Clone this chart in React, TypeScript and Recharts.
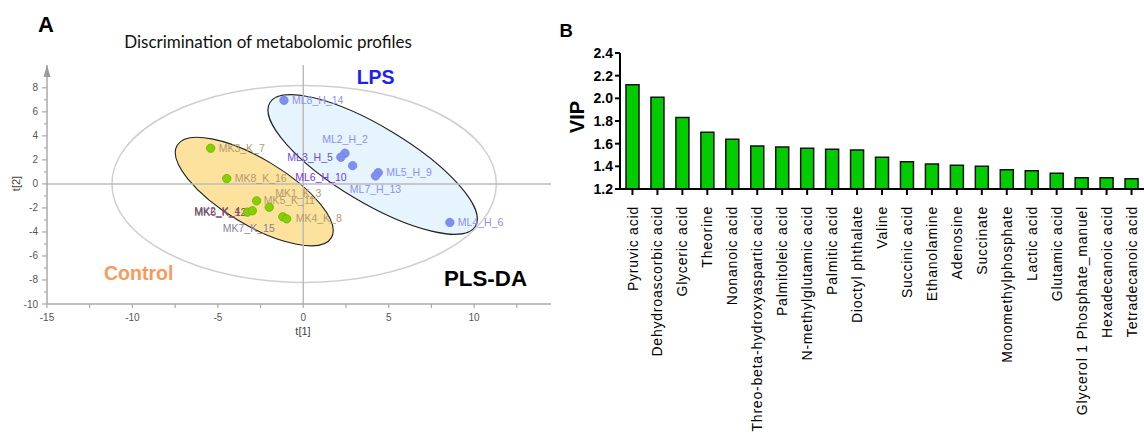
import React from 'react';
import {
  ScatterChart, Scatter, XAxis, YAxis, ReferenceArea, ReferenceLine, ReferenceDot,
  BarChart, Bar,
} from 'recharts';

// ---------- Panel A data (PLS-DA scores) ----------
const controlNames = ['MK3_K_7', 'MK8_K_16', 'MK5_K_11', 'MK1_K_3', 'MK6_K_12', 'MK2_K_4', 'MK7_K_15', 'MK4_K_8'];
const controlT1 = [-5.42, -4.48, -2.73, -1.99, -3.27, -2.98, -1.2, -0.97];
const controlT2 = [2.97, 0.44, -1.41, -1.94, -2.35, -2.24, -2.74, -2.91];

const lpsNames = ['ML8_H_14', 'ML2_H_2', 'ML3_H_5', 'ML6_H_10', 'ML5_H_9', 'ML7_H_13', 'ML4_H_6'];
const lpsT1 = [-1.13, 2.44, 2.2, 2.89, 4.39, 4.23, 8.58];
const lpsT2 = [6.96, 2.55, 2.22, 1.52, 0.94, 0.66, -3.21];

const xTicks = [-15, -12.5, -10, -7.5, -5, -2.5, 0, 2.5, 5, 7.5, 10, 12.5];
const yTicks = [-10, -9, -8, -7, -6, -5, -4, -3, -2, -1, 0, 1, 2, 3, 4, 5, 6, 7, 8, 9];

// Ellipses (center and semi-axes in data units, rotation in degrees)
const hotelling = { cx: 0.05, cy: 0, rx: 11.25, ry: 8.2, angle: 0 };
const controlEllipse = { cx: -2.87, cy: -0.64, rx: 5.26, ry: 2.74, angle: 31 };
const lpsEllipse = { cx: 4.06, cy: 1.62, rx: 7.02, ry: 3.16, angle: 31 };

// ---------- Panel B data (VIP) ----------
const vipCategories = [
  'Pyruvic acid', 'Dehydroascorbic acid', 'Glyceric acid', 'Theorine', 'Nonanoic acid',
  'Threo-beta-hydroxyaspartic acid', 'Palmitoleic acid', 'N-methylglutamic acid', 'Palmitic acid',
  'Dioctyl phthalate', 'Valine', 'Succinic acid', 'Ethanolamine', 'Adenosine', 'Succinate',
  'Monomethylphosphate', 'Lactic acid', 'Glutamic acid', 'Glycerol 1 Phosphate_manuel',
  'Hexadecanoic acid', 'Tetradecanoic acid',
];
const vipValues = [2.12, 2.01, 1.83, 1.7, 1.64, 1.58, 1.57, 1.56, 1.55, 1.545, 1.48, 1.44, 1.42, 1.41, 1.4, 1.37, 1.36, 1.34, 1.3, 1.3, 1.29];
const vipTicks = [1.2, 1.4, 1.6, 1.8, 2.0, 2.2, 2.4];

// ---------- styling config ----------
const ARIAL = '"Liberation Sans", Arial, sans-serif';
const labelPlacement: Record<string, [number, number, string, string]> = {
  ML8_H_14: [8, 3.5, 'start', '#8f8ff2'],
  ML2_H_2: [0, -10.5, 'middle', '#8f8ff2'],
  ML3_H_5: [-8, 3.5, 'end', '#6b4cf0'],
  ML6_H_10: [-6, 15, 'end', '#6b3cf0'],
  ML5_H_9: [8, 3.5, 'start', '#8f8ff2'],
  ML7_H_13: [0, 16.8, 'middle', '#8f8ff2'],
  ML4_H_6: [8, 3.5, 'start', '#8f8ff2'],
  MK3_K_7: [8, 3.5, 'start', '#b39b6e'],
  MK8_K_16: [8, 3.5, 'start', '#b39b6e'],
  MK5_K_11: [7, 3.5, 'start', '#b39b6e'],
  MK1_K_3: [6, -9.8, 'start', '#b39b6e'],
  MK6_K_12: [-1, 3.5, 'end', '#6e4e6e'],
  MK2_K_4: [-12, 4.5, 'end', '#7a4e6e'],
  MK7_K_15: [-8, 15.5, 'end', '#8c7d99'],
  MK4_K_8: [9, 3.5, 'start', '#b39b6e'],
};

const controlData = controlNames.map((n, i) => ({ name: n, t1: controlT1[i], t2: controlT2[i] }));
const lpsData = lpsNames.map((n, i) => ({ name: n, t1: lpsT1[i], t2: lpsT2[i] }));
const vipData = vipCategories.map((c, i) => ({ name: c, vip: vipValues[i] }));

const ellipseShape = (fill: string, stroke: string, sw: number, angle: number) => (props: any) => {
  const { x, y, width, height } = props;
  const cx = x + width / 2;
  const cy = y + height / 2;
  return (
    <ellipse cx={cx} cy={cy} rx={Math.abs(width) / 2} ry={Math.abs(height) / 2}
      fill={fill} stroke={stroke} strokeWidth={sw}
      transform={`rotate(${angle} ${cx} ${cy})`} />
  );
};

const labelLayer = (props: any) => {
  const { cx, cy, payload } = props;
  const p = labelPlacement[payload.name] || [8, 3.5, 'start', '#888'];
  return (
    <text x={cx + p[0]} y={cy + p[1]} textAnchor={p[2] as any} fill={p[3]}
      fontFamily={ARIAL} fontSize={10.5}>{payload.name}</text>
  );
};

const dot = (fill: string, stroke: string) => (props: any) => {
  const { cx, cy } = props;
  return <circle cx={cx} cy={cy} r={4.2} fill={fill} stroke={stroke} strokeWidth={0.8} />;
};

const YTickA = (props: any) => {
  const { x, y, payload } = props;
  const v = payload.value;
  const major = v % 2 === 0;
  return (
    <g>
      <line x1={x - (major ? 5 : 3)} x2={x} y1={y} y2={y} stroke="#aaa" strokeWidth={1.2} />
      {major && (
        <text x={x - 9} y={y + 3.5} textAnchor="end" fill="#555" fontFamily={ARIAL} fontSize={10}>{v}</text>
      )}
    </g>
  );
};

const XTickA = (props: any) => {
  const { x, y, payload } = props;
  const v = payload.value;
  const major = v % 5 === 0;
  return (
    <g>
      <line x1={x} x2={x} y1={y} y2={y + 4} stroke="#aaa" strokeWidth={1.2} />
      {major && (
        <text x={x} y={y + 16.5} textAnchor="middle" fill="#555" fontFamily={ARIAL} fontSize={10}>{v}</text>
      )}
    </g>
  );
};

const XTickB = (props: any) => {
  const { x, y, payload } = props;
  return (
    <text x={x} y={y + 9} transform={`rotate(-90 ${x} ${y + 9})`} textAnchor="end" dy="0.36em"
      fill="#000" fontFamily={ARIAL} fontSize={14} letterSpacing={0.8}>{payload.value}</text>
  );
};

export default function App() {
  return (
    <div style={{ position: 'absolute', left: 0, top: 0, width: 1144, height: 434, overflow: 'hidden', background: '#fff' }}>
      <div style={{ position: 'absolute', left: 0, top: 0 }}>
        <ScatterChart width={560} height={434} margin={{ top: 65, right: 9, bottom: 100, left: 0 }}>
          <XAxis type="number" dataKey="t1" domain={[-15, 14.5]} ticks={xTicks} interval={0}
            allowDataOverflow height={30} tickSize={0} tickMargin={0} tick={<XTickA />}
            axisLine={{ stroke: '#aaa', strokeWidth: 1.5 }} tickLine={false} />
          <YAxis type="number" dataKey="t2" domain={[-10, 9.9]} ticks={yTicks} interval={0}
            allowDataOverflow width={47} tickSize={0} tickMargin={0} tick={<YTickA />}
            axisLine={{ stroke: '#aaa', strokeWidth: 1.5 }} tickLine={false} />
          <ReferenceArea x1={hotelling.cx - hotelling.rx} x2={hotelling.cx + hotelling.rx}
            y1={hotelling.cy - hotelling.ry} y2={hotelling.cy + hotelling.ry} ifOverflow="visible"
            shape={ellipseShape('none', '#cfcfcf', 1.5, hotelling.angle)} />
          <ReferenceArea x1={controlEllipse.cx - controlEllipse.rx} x2={controlEllipse.cx + controlEllipse.rx}
            y1={controlEllipse.cy - controlEllipse.ry} y2={controlEllipse.cy + controlEllipse.ry} ifOverflow="visible"
            shape={ellipseShape('rgba(251,221,140,0.85)', '#222', 1.1, controlEllipse.angle)} />
          <ReferenceArea x1={lpsEllipse.cx - lpsEllipse.rx} x2={lpsEllipse.cx + lpsEllipse.rx}
            y1={lpsEllipse.cy - lpsEllipse.ry} y2={lpsEllipse.cy + lpsEllipse.ry} ifOverflow="visible"
            shape={ellipseShape('rgba(226,242,253,0.85)', '#222', 1.1, lpsEllipse.angle)} />
          <ReferenceLine x={0} stroke="#bbb" strokeWidth={1.5} />
          <ReferenceLine y={0} stroke="#bbb" strokeWidth={1.5} />
          <ReferenceDot x={-15} y={9.9} ifOverflow="visible"
            shape={(p: any) => <path d={`M${p.cx - 3.5},${p.cy + 12} L${p.cx},${p.cy} L${p.cx + 3.5},${p.cy + 12} Z`} fill="#999" />} />
          <Scatter data={controlData} isAnimationActive={false} shape={labelLayer} />
          <Scatter data={lpsData} isAnimationActive={false} shape={labelLayer} />
          <Scatter data={controlData} isAnimationActive={false} shape={dot('#86d000', '#6cb000')} />
          <Scatter data={lpsData} isAnimationActive={false} shape={dot('#7f8ff0', '#7080e8')} />
        </ScatterChart>
      </div>
      <div style={{ position: 'absolute', left: 560, top: 0 }}>
        <BarChart width={584} height={434} data={vipData} margin={{ top: 53, right: 0, bottom: 0, left: 0 }}
          barSize={13}>
          <XAxis dataKey="name" interval={0} height={245} tick={<XTickB />} tickSize={6} tickMargin={2}
            axisLine={{ stroke: '#000', strokeWidth: 2 }} tickLine={{ stroke: '#000', strokeWidth: 2 }} />
          <YAxis type="number" domain={[1.2, 2.4]} ticks={vipTicks} interval={0} allowDataOverflow width={60}
            tickSize={5} tickMargin={2} tickFormatter={(v: number) => v.toFixed(1)}
            tick={{ fill: '#000', fontFamily: ARIAL, fontSize: 14, fontWeight: 'bold' }}
            axisLine={{ stroke: '#000', strokeWidth: 2 }} tickLine={{ stroke: '#000', strokeWidth: 2 }} />
          <Bar dataKey="vip" fill="#00cc00" stroke="#111" strokeWidth={1.5} isAnimationActive={false} />
        </BarChart>
      </div>
      <svg width={1144} height={434} style={{ position: 'absolute', left: 0, top: 0, pointerEvents: 'none' }}>
        <text x={38} y={32.3} fontFamily={ARIAL} fontWeight="bold" fontSize={22} fill="#000">A</text>
        <text x={268} y={47.5} textAnchor="middle" fontFamily="Lato, 'Open Sans', sans-serif" fontSize={17} fill="#111">Discrimination of metabolomic profiles</text>
        <text x={356.7} y={84} fontFamily={ARIAL} fontWeight="bold" fontSize={19.5} fill="#1f1fef">LPS</text>
        <text x={104} y={280} fontFamily={ARIAL} fontWeight="bold" fontSize={19.5} fill="#f79a5b">Control</text>
        <text x={444} y={286} fontFamily={ARIAL} fontWeight="bold" fontSize={22.3} fill="#000">PLS-DA</text>
        <text x={19.5} y={183.5} transform="rotate(-90 19.5 183.5)" textAnchor="middle" fontFamily={ARIAL} fontSize={11} fill="#444">t[2]</text>
        <text x={303} y={335} textAnchor="middle" fontFamily={ARIAL} fontSize={11} fill="#444">t[1]</text>
        <text x={559.5} y={36.7} fontFamily={ARIAL} fontWeight="bold" fontSize={18.5} fill="#000">B</text>
        <text x={584} y={117} transform="rotate(-90 584 117)" textAnchor="middle" fontFamily={ARIAL} fontWeight="bold" fontSize={20} fill="#000">VIP</text>
      </svg>
    </div>
  );
}
